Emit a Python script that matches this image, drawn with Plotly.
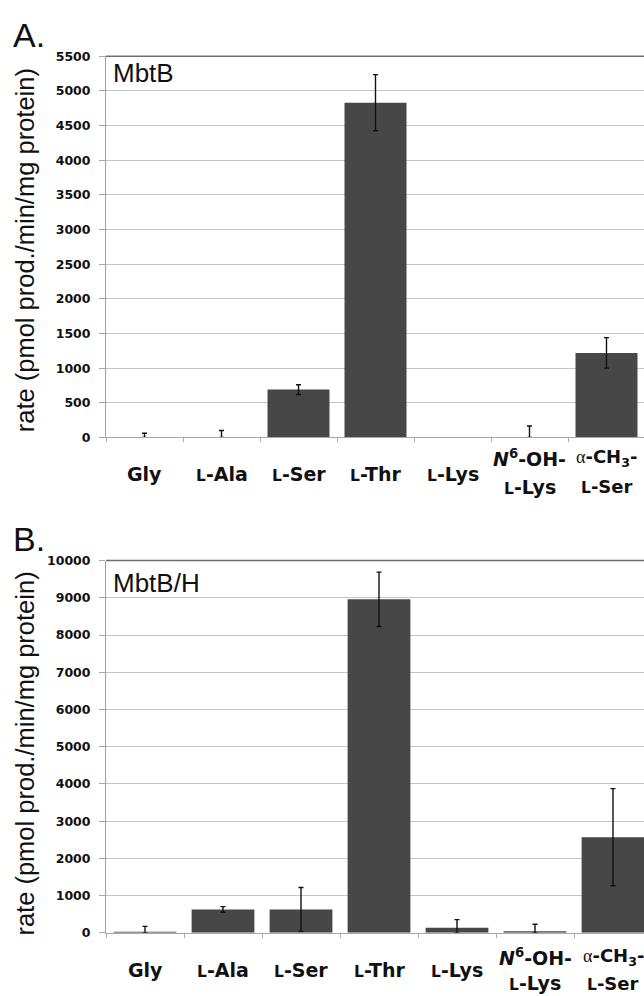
import numpy as np
import plotly.graph_objects as go

# ---------------- data ----------------
categories = ["Gly", "L-Ala", "L-Ser", "L-Thr", "L-Lys", "N6-OH-L-Lys", "a-CH3-L-Ser"]
SC = "<span style='font-size:15.5px'>L</span>"
label_line1 = ["Gly", SC + "-Ala", SC + "-Ser", SC + "-Thr", SC + "-Lys",
               "<i>N</i><sup>6</sup>-OH-",
               "<span style='font-family:Liberation Serif;font-weight:normal'>α</span>-CH<sub>3</sub>-"]
label_line2 = ["", "", "", "", "", SC + "-Lys", SC + "-Ser"]

mbtb_rate = [0, 0, 690, 4830, 0, 0, 1220]
mbtb_err = [60, 100, 70, 405, None, 165, 220]   # None: no error bar drawn

mbtbh_rate = [30, 630, 630, 8960, 135, 45, 2570]
mbtbh_err = [145, 75, 590, 730, 220, 185, 1305]

yticks_a = [0, 500, 1000, 1500, 2000, 2500, 3000, 3500, 4000, 4500, 5000, 5500]
yticks_b = [0, 1000, 2000, 3000, 4000, 5000, 6000, 7000, 8000, 9000, 10000]

panel_titles = ["MbtB", "MbtB/H"]
panel_letters = ["A.", "B."]
y_title = "rate (pmol prod./min/mg protein)"

# ---------------- layout geometry ----------------
W, H = 644, 996
def fx(px):
    return px / W
def fy(px):
    return 1 - px / H

BAR = "#474747"
GRID = "#c4c4c4"

fig = go.Figure()

def add_bars(vals, errs, xa, ya):
    vals = np.array(vals, dtype=float)
    errs = np.array([np.nan if e is None else e for e in errs], dtype=float)
    fig.add_trace(go.Bar(
        x=categories, y=vals, xaxis=xa, yaxis=ya,
        marker=dict(color=BAR, line=dict(width=0)),
        error_y=dict(type="data", array=errs, arrayminus=np.minimum(errs, vals),
                     symmetric=False, color="#111111", thickness=1.4, width=2.5,
                     visible=True),
        showlegend=False, hoverinfo="skip",
    ))

add_bars(mbtb_rate, mbtb_err, "x", "y")
add_bars(mbtbh_rate, mbtbh_err, "x2", "y2")

x_left = fx(106)
xcommon = dict(type="category", showgrid=False, showticklabels=False,
               showline=True, linecolor="#a8a8a8", linewidth=1,
               ticks="outside", tickson="boundaries", ticklen=4, tickcolor="#a8a8a8",
               domain=[x_left, 1], fixedrange=True)
ycommon = dict(showgrid=True, gridcolor=GRID, gridwidth=1,
               showline=True, linecolor="#a0a0a0", linewidth=1,
               ticks="outside", ticklen=6, tickcolor="#a8a8a8",
               tickfont=dict(family="DejaVu Sans", size=12.5, color="#111111", weight="bold"),
               ticklabelstandoff=6, zeroline=False, fixedrange=True)

fig.update_layout(
    width=W, height=H,
    margin=dict(l=0, r=0, t=0, b=0),
    paper_bgcolor="white", plot_bgcolor="white",
    bargap=0.195,
    xaxis=dict(**xcommon, anchor="y", range=[-0.5, -0.5 + 538 / 77]),
    yaxis=dict(**ycommon, anchor="x", domain=[fy(436), fy(49)], range=[0, 5500],
               tickvals=yticks_a, ticktext=[str(v) for v in yticks_a]),
    xaxis2=dict(**xcommon, anchor="y2", range=[-0.5, -0.5 + 538 / 78]),
    yaxis2=dict(**ycommon, anchor="x2", domain=[fy(939), fy(561)], range=[0, 10000],
                tickvals=yticks_b, ticktext=[str(v) for v in yticks_b]),
)

# top borders of plot areas
for yr in ["y domain", "y2 domain"]:
    fig.add_shape(type="line", xref="paper", yref=yr, x0=x_left, x1=1, y0=1, y1=1,
                  line=dict(color="#6e6e6e", width=1.5))

ann = []
lab_font = dict(family="DejaVu Sans", size=19, color="#111111", weight="bold")
last_font = dict(family="DejaVu Sans", size=18, color="#111111", weight="bold")
# x labels
for xr, single_c, l1_c, l2_c in [("x", 473, 457, 486), ("x2", 977, 964, 990)]:
    for i, c in enumerate(categories):
        f = last_font if i == len(categories) - 1 else lab_font
        if label_line2[i]:
            ann.append(dict(x=c, xref=xr, y=fy(l1_c), yref="paper", text=label_line1[i],
                            showarrow=False, font=f, xanchor="center", yanchor="middle"))
            ann.append(dict(x=c, xref=xr, y=fy(l2_c), yref="paper", text=label_line2[i],
                            showarrow=False, font=f, xanchor="center", yanchor="middle"))
        else:
            ann.append(dict(x=c, xref=xr, y=fy(single_c), yref="paper", text=label_line1[i],
                            showarrow=False, font=f, xanchor="center", yanchor="middle"))

# y titles
for yc in [246, 757]:
    ann.append(dict(x=fx(25), y=fy(yc), xref="paper", yref="paper", text=y_title,
                    textangle=-90, showarrow=False, xanchor="center", yanchor="middle",
                    font=dict(family="Liberation Sans", size=25.5, color="#111111")))

# panel letters
for txt, yc in zip(panel_letters, [27, 539]):
    ann.append(dict(x=fx(11), y=fy(yc), xref="paper", yref="paper", text=txt,
                    showarrow=False, xanchor="left", yanchor="middle",
                    font=dict(family="Liberation Sans", size=34, color="#111111")))

# panel titles
for txt, yc in zip(panel_titles, [66, 584]):
    ann.append(dict(x=fx(111), y=fy(yc), xref="paper", yref="paper", text=txt,
                    showarrow=False, xanchor="left", yanchor="middle",
                    font=dict(family="Liberation Sans", size=26, color="#111111")))

fig.update_layout(annotations=ann)
fig.write_html("out.html", config={"displayModeBar": False, "staticPlot": True},
               post_script="document.body.style.margin='0';document.body.style.overflow='hidden';")
